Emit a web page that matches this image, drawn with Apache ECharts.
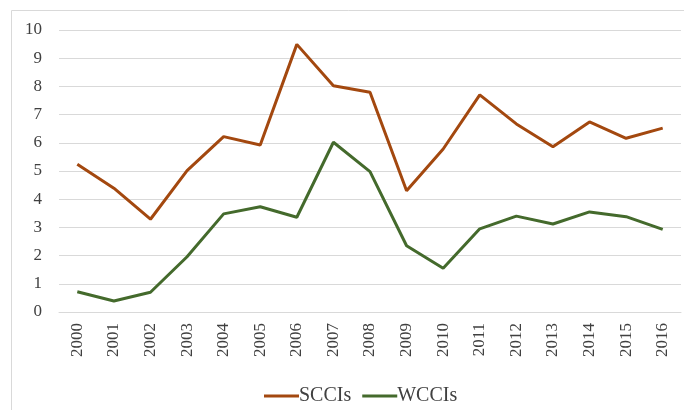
<!DOCTYPE html>
<html>
<head>
<meta charset="utf-8">
<script src="https://cdn.jsdelivr.net/npm/echarts@6/dist/echarts.min.js"></script>
<style>
  html, body { margin: 0; padding: 0; background: #fff; }
  #chart { width: 684px; height: 410px; }
</style>
</head>
<body>
<div id="chart"></div>
<script>
// years on the x axis
var years = ['2000', '2001', '2002', '2003', '2004', '2005', '2006', '2007', '2008',
  '2009', '2010', '2011', '2012', '2013', '2014', '2015', '2016'];
// values
var scci = [5.24, 4.39, 3.29, 5.01, 6.22, 5.92, 9.49, 8.02, 7.79, 4.30, 5.78, 7.70, 6.67, 5.86, 6.74, 6.16, 6.52];
var wcci = [0.72, 0.39, 0.70, 1.96, 3.48, 3.73, 3.36, 6.02, 4.98, 2.35, 1.55, 2.95, 3.40, 3.12, 3.55, 3.38, 2.93];

var font = '"Liberation Serif", "DejaVu Serif", serif';

var chart = echarts.init(document.getElementById('chart'));
chart.setOption({
  animation: false,
  textStyle: { fontFamily: font },
  // outer chart frame (only top and left edges are inside the picture)
  graphic: [{
    type: 'rect',
    shape: { x: 11.5, y: 10.5, width: 700, height: 420 },
    style: { fill: 'none', stroke: '#d9d9d9', lineWidth: 1 },
    silent: true
  }],
  grid: { left: 59, right: 3, top: 30, bottom: 98 },
  legend: {
    data: ['SCCIs', 'WCCIs'],
    left: 259,
    top: 381,
    icon: 'rect',
    itemWidth: 35,
    itemHeight: 3,
    itemGap: 11,
    textStyle: { fontFamily: font, fontSize: 20, color: '#404040', padding: [0, 0, 0, -5] }
  },
  xAxis: {
    type: 'category',
    data: years,
    boundaryGap: true,
    axisLine: { show: true, lineStyle: { color: '#d9d9d9' } },
    axisTick: { show: false },
    axisLabel: {
      rotate: 90,
      interval: 0,
      margin: 11,
      fontSize: 17,
      color: '#404040',
      fontFamily: font
    }
  },
  yAxis: {
    type: 'value',
    min: 0,
    max: 10,
    interval: 1,
    axisLine: { show: false },
    axisTick: { show: false },
    axisLabel: { fontSize: 17, color: '#404040', margin: 17, fontFamily: font },
    splitLine: { lineStyle: { color: '#d9d9d9', width: 1 } }
  },
  series: [{
    name: 'SCCIs',
    type: 'line',
    data: scci,
    symbol: 'none',
    color: '#A3480F',
    lineStyle: { width: 3, color: '#A3480F' }
  }, {
    name: 'WCCIs',
    type: 'line',
    data: wcci,
    symbol: 'none',
    color: '#446A2C',
    lineStyle: { width: 3, color: '#446A2C' }
  }]
});
</script>
</body>
</html>
